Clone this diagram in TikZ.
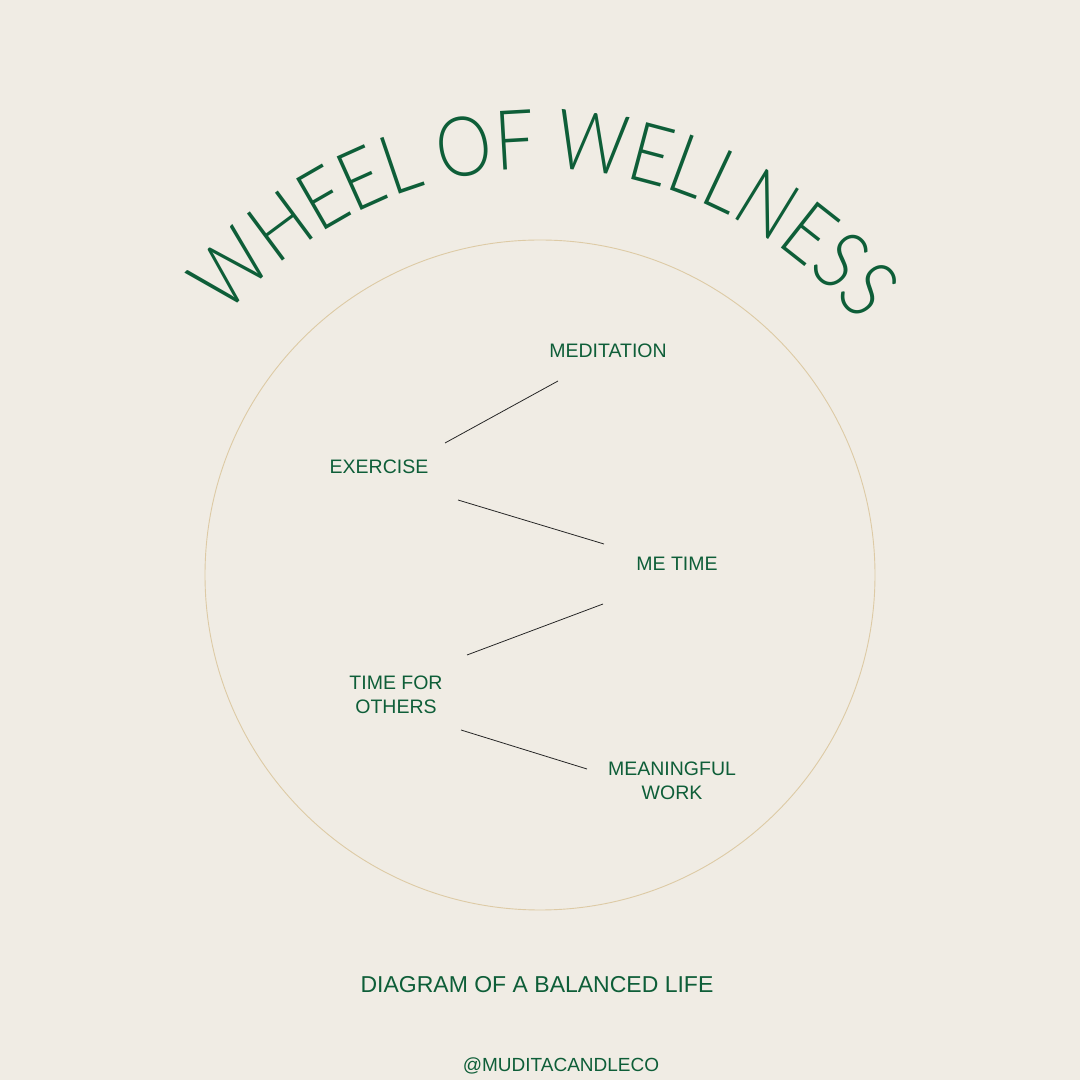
\documentclass[tikz,border=0pt]{standalone}
\usepackage{fontspec}
\setmainfont{Liberation Sans}
\IfFontExistsTF{Lato Light}
  {\newfontfamily\titlefont[FakeStretch=0.85,WordSpace=0.85]{Lato Light}}
  {\newfontfamily\titlefont[FakeStretch=0.85,WordSpace=0.85]{Fira Sans}}
\usepackage{xcolor}
\usetikzlibrary{positioning,calc,decorations.text}
\definecolor{pine}{RGB}{14,94,56}
\definecolor{paper}{RGB}{240,236,228}
\definecolor{sand}{RGB}{221,202,165}
\tikzset{
  lbl/.style={font=\fontsize{19.5}{24}\selectfont, text=pine, inner sep=0pt, align=center},
  link/.style={draw=black!85, line width=0.8pt},
  rim/.style={circle, draw=sand, line width=0.9pt, inner sep=0pt, minimum size=670pt}
}
\begin{document}
\begin{tikzpicture}[x=1pt,y=1pt]
\fill[paper] (0,0) rectangle (1080,1080);
\useasboundingbox (0,0) rectangle (1080,1080);
\node[rim] (wheel) at (540,505) {};
% curved title, concentric with the wheel
\path[decorate, decoration={text along path, text align=fit to path, text color=pine,
  text={|\titlefont\fontsize{83}{83}\selectfont|WHEEL OF WELLNESS}}]
  (wheel.center) ++(140.5:406) arc[start angle=140.5, end angle=39.5, radius=406];
\node[lbl] (med) at (608,729) {MEDITATION};
\node[lbl] (ex) at (379,613) {EXERCISE};
\node[lbl] (me) at (677,516) {ME TIME};
\node[lbl] (oth) at (396,385) {TIME FOR\\OTHERS};
\node[lbl] (work) at (672,299) {MEANINGFUL\\WORK};
\draw[link] ([shift={(66,24)}]ex.center) -- ([shift={(-50,-30)}]med.center);
\draw[link] ([shift={(79,-33)}]ex.center) -- ([shift={(-73,20)}]me.center);
\draw[link] ([shift={(-74,-40)}]me.center) -- ([shift={(71,40)}]oth.center);
\draw[link] ([shift={(65,-35)}]oth.center) -- ([shift={(-85,12)}]work.center);
\node[lbl, font=\fontsize{23}{28}\selectfont] (sub) at (537,95) {DIAGRAM OF A BALANCED LIFE};
\node[lbl, font=\fontsize{19}{24}\selectfont] (handle) at (561,14) {@MUDITACANDLECO};
\end{tikzpicture}
\end{document}
